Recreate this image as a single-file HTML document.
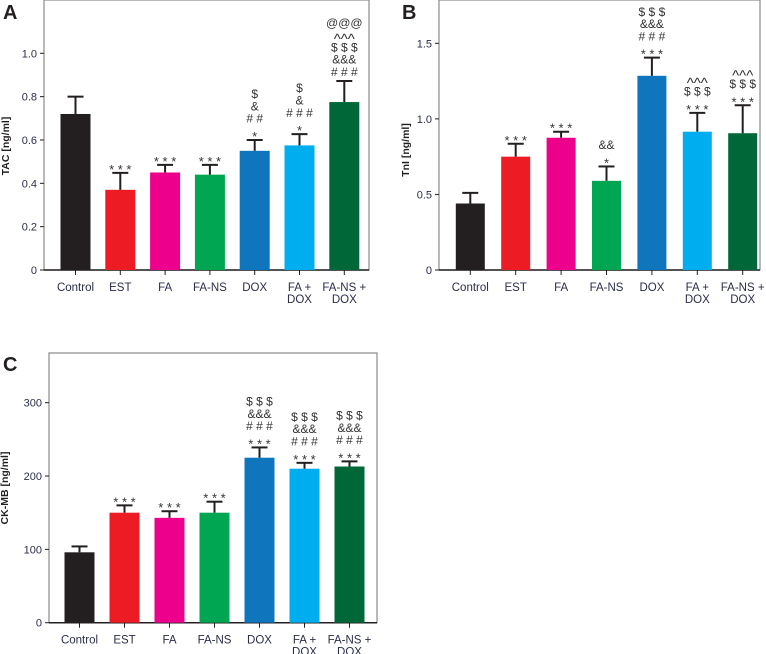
<!DOCTYPE html>
<html><head><meta charset="utf-8"><style>
html,body{margin:0;padding:0;background:#fff;}
svg{display:block;font-family:"Liberation Sans",sans-serif;}
</style></head><body>
<svg id="fig" width="766" height="654" viewBox="0 0 766 654"></svg>
<script>
const categories = ["Control","EST","FA","FA-NS","DOX","FA +|DOX","FA-NS +|DOX"];
const colors = ["#231f20","#ed1c24","#ec008c","#00a651","#0f75bc","#00aeef","#006838"];
const tacValues = [0.72,0.37,0.45,0.44,0.55,0.575,0.775];
const tacErrors = [0.08,0.078,0.035,0.045,0.05,0.052,0.097];
const tacTicks = [0,0.2,0.4,0.6,0.8,1.0];
const tacTickLabels = ["0","0.2","0.4","0.6","0.8","1.0"];
const tacAnno = [[],["* * *"],["* * *"],["* * *"],["$","&","# #","*"],["$","&","# # #","*"],["@@@","^^^","$ $ $","&&&","# # #"]];
const tniValues = [0.44,0.75,0.875,0.59,1.285,0.915,0.905];
const tniErrors = [0.07,0.085,0.04,0.095,0.12,0.125,0.185];
const tniTicks = [0,0.5,1.0,1.5];
const tniTickLabels = ["0","0.5","1.0","1.5"];
const tniAnno = [[],["* * *"],["* * *"],["&&","*"],["$ $ $","&&&","# # #","* * *"],["^^^","$ $ $","* * *"],["^^^","$ $ $","* * *"]];
const ckValues = [96,150,143,150,225,210,213];
const ckErrors = [8,10,9,15,14,8,7];
const ckTicks = [0,100,200,300];
const ckTickLabels = ["0","100","200","300"];
const ckAnno = [[],["* * *"],["* * *"],["* * *"],["$ $ $","&&&","# # #","* * *"],["$ $ $","&&&","# # #","* * *"],["$ $ $","&&&","# # #","* * *"]];

const NS="http://www.w3.org/2000/svg";
const svg=document.getElementById("fig");
function mk(tag,attrs,parent,text){const e=document.createElementNS(NS,tag);for(const k in attrs)e.setAttribute(k,attrs[k]);if(text!==undefined)e.textContent=text;(parent||svg).appendChild(e);return e;}

function panel(p){
  const g=mk("g",{});
  
  
  const y=v=>p.y0-(v/p.vmax)*(p.y0-p.yRef);
  const x=i=>p.x0c+i*p.step;
  const fr=mk("rect",{x:p.left,y:p.top,width:p.right-p.left,height:p.y0-p.top,fill:"none",stroke:"#8a8a8a","stroke-width":1.2},g);
  
  
  const ax=mk("line",{x1:p.left,y1:p.y0,x2:p.right,y2:p.y0,stroke:"#231f20","stroke-width":1.5},g);
  
  
  const pl=mk("text",{x:p.labX,y:p.labY,"font-size":20,"font-weight":"bold",fill:"#231f20"},g,p.letter);
  
  
  p.ticks.forEach((t,i)=>{
    const ty=y(t);
    const tl=mk("line",{x1:p.left-4,y1:ty,x2:p.left,y2:ty,stroke:"#231f20","stroke-width":1},g);
    
    
    const tt=mk("text",{x:p.left-7,y:ty+4,"text-anchor":"end","font-size":11,fill:"#2b2d4a"},g,p.tickLabels[i]);
    
    
  });
  const yt=mk("text",{x:0,y:0,"font-size":10.5,"font-weight":"bold",fill:"#231f20","text-anchor":"middle",transform:`translate(${p.titleX},${p.titleY}) rotate(-90)`},g,p.title);
  
  
  p.values.forEach((v,i)=>{
    const cx=x(i),w=p.bw;
    const b=mk("rect",{x:cx-w/2,y:y(v),width:w,height:p.y0-y(v),fill:colors[i]},g);
    
    
    const top=y(v+p.errors[i]);
    const e1=mk("line",{x1:cx,y1:y(v),x2:cx,y2:top,stroke:"#231f20","stroke-width":2},g);
    
    
    const e2=mk("line",{x1:cx-8,y1:top,x2:cx+8,y2:top,stroke:"#231f20","stroke-width":2},g);
    
    
    const an=p.anno[i];
    an.forEach((s,k)=>{
      const ly=top-5-(an.length-1-k)*12.3;
      const isStar=s.indexOf("*")>=0;
      const isCaret=s.indexOf("^")>=0;
      const at=mk("text",{x:cx,y:isStar?ly+6:(isCaret?ly+5:ly),"text-anchor":"middle","font-size":isStar?13:(isCaret?15:12),fill:"#333"},g,s);
      
      
    });
    const tk=mk("line",{x1:cx,y1:p.y0,x2:cx,y2:p.y0+5,stroke:"#231f20","stroke-width":1},g);
    
    
    categories[i].split("|").forEach((s,k)=>{
      const xl=mk("text",{x:cx,y:p.y0+21+k*12,"text-anchor":"middle","font-size":11.5,fill:"#2b2d4a"},g,s);
      
      
    });
  });
}
panel({name:"panel-a-tac",letter:"A",labX:3,labY:19,left:44,right:369,top:0,y0:270,yRef:53.3,vmax:1.0,x0c:75.5,step:44.8,bw:30,
  values:tacValues,errors:tacErrors,ticks:tacTicks,tickLabels:tacTickLabels,anno:tacAnno,title:"TAC [ng/ml]",titleX:9,titleY:146});
panel({name:"panel-b-tni",letter:"B",labX:402,labY:19,left:439,right:760,top:0,y0:270,yRef:43.3,vmax:1.5,x0c:470.3,step:45.4,bw:29,
  values:tniValues,errors:tniErrors,ticks:tniTicks,tickLabels:tniTickLabels,anno:tniAnno,title:"TnI [ng/ml]",titleX:409,titleY:150});
panel({name:"panel-c-ckmb",letter:"C",labX:3,labY:371,left:49,right:377,top:353,y0:622.7,yRef:402.7,vmax:300,x0c:79.5,step:45,bw:30,
  values:ckValues,errors:ckErrors,ticks:ckTicks,tickLabels:ckTickLabels,anno:ckAnno,title:"CK-MB [ng/ml]",titleX:8,titleY:488});
</script>
</body></html>
